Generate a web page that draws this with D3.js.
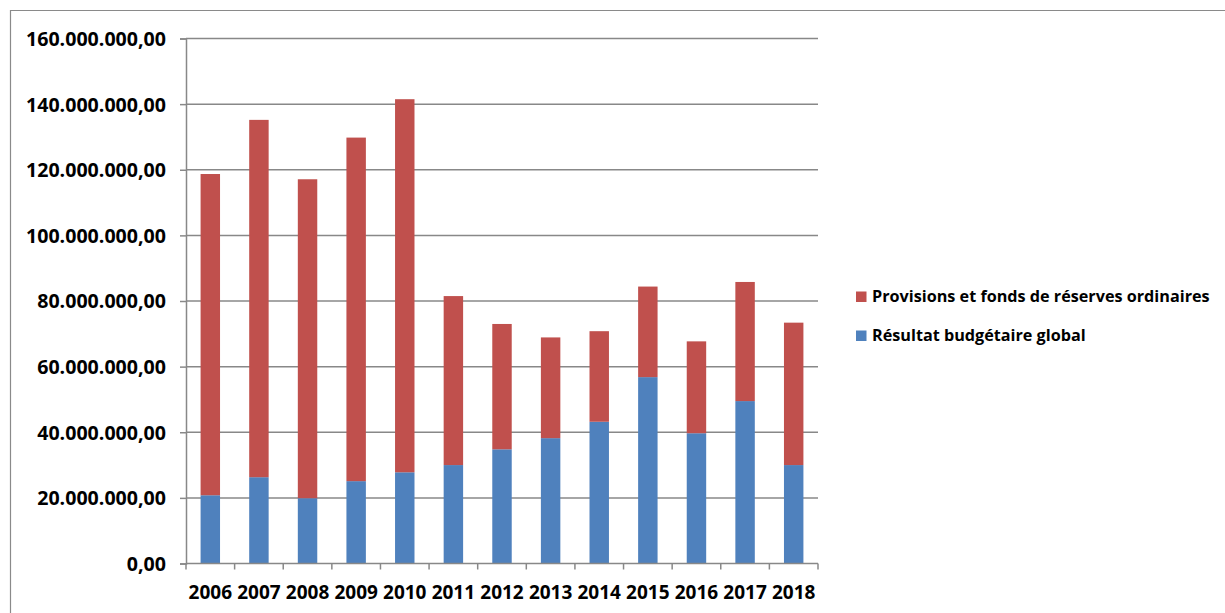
<!DOCTYPE html>
<html>
<head>
<meta charset="utf-8">
<script src="https://cdn.jsdelivr.net/npm/d3@7"></script>
<style>
  html, body { margin: 0; padding: 0; background: #fff; }
  svg { display: block; }
  text { font-family: "Open Sans", "DejaVu Sans", sans-serif; font-weight: bold; fill: #000; }
</style>
</head>
<body>
<svg id="chart" width="1225" height="613"></svg>
<script>
const years = ["2006","2007","2008","2009","2010","2011","2012","2013","2014","2015","2016","2017","2018"];
// Résultat budgétaire global (bottom, blue)
const resultat = [20.8e6, 26.3e6, 19.9e6, 25.1e6, 27.8e6, 30.0e6, 34.8e6, 38.2e6, 43.2e6, 56.8e6, 39.7e6, 49.5e6, 30.0e6];
// Provisions et fonds de réserves ordinaires (top, red)
const provisions = [97.9e6, 108.9e6, 97.2e6, 104.7e6, 113.7e6, 51.5e6, 38.2e6, 30.7e6, 27.6e6, 27.6e6, 28.0e6, 36.3e6, 43.4e6];
const yTicks = [0, 20e6, 40e6, 60e6, 80e6, 100e6, 120e6, 140e6, 160e6];
const seriesNames = ["Provisions et fonds de réserves ordinaires", "Résultat budgétaire global"];
const colors = { provisions: "#C0504D", resultat: "#4F81BD" };

(function () {
const svg = d3.select("#chart");
const pLeft = 186, pRight = 818, pTop = 38.5, pBottom = 563.5;

const x = d3.scaleBand().domain(years).range([pLeft, pRight]).paddingInner(0.6).paddingOuter(0.3);
const y = d3.scaleLinear().domain([0, 160e6]).range([pBottom, pTop]);

// outer chart border
svg.append("path")
  .attr("d", `M10.5,613 L10.5,10.5 L1225,10.5`)
  .attr("fill", "none").attr("stroke", "#8a8a8a").attr("stroke-width", 1.2);

const fmt = v => {
  const s = d3.format(",.2f")(v);
  return s.replace(/,/g, "#").replace(".", ",").replace(/#/g, ".");
};

// gridlines
svg.append("g").selectAll("line").data(yTicks.filter(d => d > 0)).join("line")
  .attr("x1", pLeft).attr("x2", pRight)
  .attr("y1", d => y(d)).attr("y2", d => y(d))
  .attr("stroke", "#888").attr("stroke-width", 1.5);

// y axis
const yAxis = d3.axisLeft(y).tickValues(yTicks).tickSize(6).tickFormat(fmt).tickPadding(14);
const gy = svg.append("g").attr("transform", `translate(${pLeft},0)`).call(yAxis);
gy.attr("font-family", null).attr("font-size", null);
gy.select(".domain").attr("stroke", "#888").attr("stroke-width", 1.5);
gy.selectAll(".tick line").attr("stroke", "#888").attr("stroke-width", 1.5);
gy.selectAll(".tick text").style("font-size", "19.6px").attr("dy", "0.35em");

// stacked bars
const stackData = years.map((yr, i) => ({ year: yr, resultat: resultat[i], provisions: provisions[i] }));
const stack = d3.stack().keys(["resultat", "provisions"])(stackData);
svg.append("g").selectAll("g").data(stack).join("g")
  .attr("fill", d => colors[d.key])
  .selectAll("rect").data(d => d).join("rect")
  .attr("x", d => x(d.data.year))
  .attr("width", x.bandwidth())
  .attr("y", d => y(d[1]))
  .attr("height", d => y(d[0]) - y(d[1]));

// x axis
const step = x.step();
const gx = svg.append("g");
gx.append("line").attr("x1", pLeft).attr("x2", pRight).attr("y1", pBottom).attr("y2", pBottom)
  .attr("stroke", "#888").attr("stroke-width", 1.5);
gx.selectAll("line.tk").data(d3.range(years.length + 1)).join("line").attr("class", "tk")
  .attr("x1", i => pLeft + i * step).attr("x2", i => pLeft + i * step)
  .attr("y1", pBottom).attr("y2", pBottom + 6)
  .attr("stroke", "#888").attr("stroke-width", 1.5);
gx.selectAll("text").data(years).join("text")
  .attr("x", d => x(d) + x.bandwidth() / 2)
  .attr("y", 599)
  .attr("text-anchor", "middle")
  .style("font-size", "19px")
  .text(d => d);

// legend
const legend = svg.append("g");
const legItems = [
  { name: seriesNames[0], color: colors.provisions, ly: 302 },
  { name: seriesNames[1], color: colors.resultat, ly: 341 }
];
legItems.forEach(it => {
  legend.append("rect").attr("x", 856).attr("y", it.ly - 10.5).attr("width", 10.5).attr("height", 10.5).attr("fill", it.color);
  legend.append("text").attr("x", 872).attr("y", it.ly).style("font-size", "16.2px").text(it.name);
});
})();
</script>
</body>
</html>
